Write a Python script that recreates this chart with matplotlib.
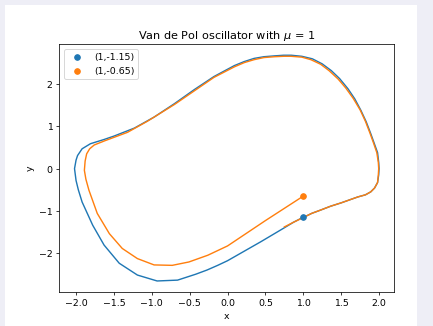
import matplotlib
matplotlib.use("Agg")
import matplotlib.pyplot as plt
from matplotlib.patches import Rectangle

# trajectory starting at (1,-1.15)
x_a = [1.00, 0.87, 0.75, 0.44, 0.00, -0.13, -0.27, -0.42, -0.66, -0.93,
       -1.19, -1.43, -1.63, -1.78, -1.92, -1.97, -2.00, -2.02, -2.00, -1.98,
       -1.92, -1.81, -1.63, -1.50, -1.23, -0.97, -0.70, -0.44, -0.18, 0.09,
       0.22, 0.35, 0.48, 0.62, 0.74, 0.84, 0.98, 1.12, 1.25, 1.37,
       1.48, 1.59, 1.68, 1.76, 1.83, 1.89, 1.94, 1.98, 1.995, 2.00,
       1.995, 1.98, 1.94, 1.89, 1.82, 1.72, 1.61, 1.50, 1.36, 1.23,
       1.11, 1.00]
y_a = [-1.15, -1.27, -1.40, -1.73, -2.18, -2.29, -2.40, -2.50, -2.64, -2.66,
       -2.52, -2.24, -1.81, -1.34, -0.79, -0.50, -0.28, 0.00, 0.20, 0.31,
       0.47, 0.59, 0.69, 0.77, 0.96, 1.22, 1.54, 1.87, 2.18, 2.44,
       2.535, 2.61, 2.65, 2.67, 2.685, 2.685, 2.66, 2.60, 2.48, 2.32,
       2.13, 1.89, 1.65, 1.38, 1.11, 0.83, 0.58, 0.38, 0.15, 0.00,
       -0.15, -0.33, -0.46, -0.55, -0.62, -0.67, -0.74, -0.81, -0.89, -0.98,
       -1.06, -1.157]

# trajectory starting at (1,-0.65)
x_b = [1.00, 0.75, 0.50, 0.25, 0.00, -0.26, -0.51, -0.73, -0.97, -1.19,
       -1.39, -1.56, -1.72, -1.83, -1.87, -1.89, -1.88, -1.86, -1.82, -1.76,
       -1.62, -1.50, -1.32, -1.06, -0.70, -0.44, -0.18, 0.09, 0.22, 0.35,
       0.48, 0.62, 0.74, 0.84, 0.98, 1.10, 1.23, 1.34, 1.46, 1.56,
       1.66, 1.75, 1.82, 1.88, 1.93, 1.97, 1.99, 1.995, 1.99, 1.98,
       1.94, 1.89, 1.82, 1.72, 1.61, 1.50, 1.36, 1.23, 1.11, 1.00,
       0.87, 0.75]
y_b = [-0.65, -0.94, -1.23, -1.53, -1.83, -2.05, -2.21, -2.29, -2.28, -2.13,
       -1.89, -1.54, -1.06, -0.51, -0.25, -0.04, 0.18, 0.35, 0.47, 0.56,
       0.66, 0.74, 0.86, 1.12, 1.52, 1.84, 2.16, 2.41, 2.51, 2.58,
       2.63, 2.65, 2.66, 2.66, 2.64, 2.58, 2.47, 2.32, 2.12, 1.91,
       1.66, 1.39, 1.12, 0.84, 0.59, 0.38, 0.15, 0.00, -0.15, -0.33,
       -0.46, -0.55, -0.62, -0.67, -0.74, -0.81, -0.89, -0.98, -1.06, -1.157,
       -1.27, -1.38]

starts = [(1, -1.15), (1, -0.65)]
labels = ['(1,-1.15)', '(1,-0.65)']

dpi = 433 / 6.4
fig = plt.figure(figsize=(6.4, 326.4 / dpi), dpi=dpi, facecolor='#eeeef6')
# white page area inside the light frame
fig.patches.append(Rectangle((5 / 433, 0), 412 / 433, 321 / 326,
                             transform=fig.transFigure, facecolor='white',
                             edgecolor='none', zorder=-5))
ax = fig.add_axes([59.3 / 433, 1 - 292.3 / 326, 335 / 433, 248 / 326])

ax.plot(x_a, y_a, color='C0')
ax.plot(x_b, y_b, color='C1')
ax.scatter(starts[0][0], starts[0][1], color='C0', label=labels[0], zorder=3)
ax.scatter(starts[1][0], starts[1][1], color='C1', label=labels[1], zorder=3)

ax.set_title(r'Van de Pol oscillator with $\mu$ = 1')
ax.set_xlabel('x')
ax.set_ylabel('y')
ax.legend(loc='upper left')

fig.savefig('out.png', dpi=dpi, facecolor=fig.get_facecolor())
